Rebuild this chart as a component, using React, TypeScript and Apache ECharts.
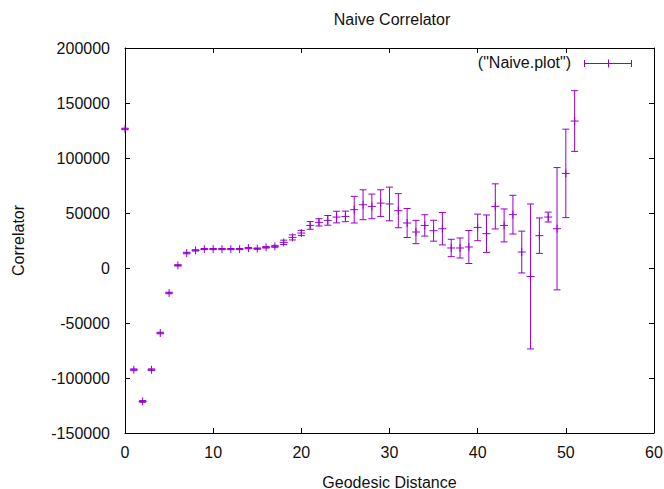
import React, { useEffect, useRef } from "react";
import * as echarts from "echarts";

const distance = [
  0, 1, 2, 3, 4, 5, 6, 7, 8, 9, 10, 11, 12, 13, 14, 15, 16, 17, 18, 19, 20, 21, 22, 23, 24, 25,
  26, 27, 28, 29, 30, 31, 32, 33, 34, 35, 36, 37, 38, 39, 40, 41, 42, 43, 44, 45, 46, 47, 48, 49, 50, 51,
];
const correlator = [
  126400, -92500, -121300, -92500, -59100, -22700, 2400, 13600, 16000, 17200, 17200, 17200, 17200,
  17200, 18100, 17600, 18800, 19700, 23300, 27800, 31800, 38700, 41500, 43300, 46300, 46900,
  53000, 57500, 56000, 59000, 58200, 52100, 40900, 32700, 38700, 33900, 35700, 18200, 18200,
  19100, 36900, 31200, 56000, 38700, 48500, 14500, -7700, 29400, 46300, 35700, 86000, 133600,
];
const errors = [
  700, 800, 800, 800, 700, 700, 600, 700, 600, 500, 500, 500, 500, 500, 600, 600, 700,
  900, 2000, 2300, 2400, 3500, 3300, 4400, 5300, 4800, 12100, 13600, 11200, 12100, 15300, 15500,
  13200, 10600, 9700, 9500, 14700, 7900, 9100, 15000, 12100, 17000, 20500, 15000, 17600, 19000,
  65900, 16100, 4500, 55600, 40200, 27600,
];
const xTicks = { min: 0, max: 60, interval: 10 };
const yTicks = { min: -150000, max: 200000, interval: 50000 };
const titleText = "Naive Correlator";
const xName = "Geodesic Distance";
const yName = "Correlator";
const legendName = '("Naive.plot")';

const COLOR = "#9400D3";
const FONT = "'Liberation Sans', Arial, sans-serif";

export default function App() {
  const ref = useRef<HTMLDivElement>(null);
  useEffect(() => {
    if (!ref.current) return;
    const chart = echarts.init(ref.current, null, { renderer: "svg" });
    const data = distance.map((d, i) => [d, correlator[i], errors[i]]);
    const axisLine = { show: true, onZero: false, lineStyle: { color: "#000", width: 1 } };
    const tickInside = { show: true, inside: true, length: 5, lineStyle: { color: "#000" } };
    const labelStyle = { fontSize: 16, color: "#111", fontFamily: FONT };
    const lineStyle = { stroke: COLOR, lineWidth: 1, fill: null };

    chart.setOption({
      animation: false,
      backgroundColor: "#fff",
      title: {
        text: titleText,
        left: 387,
        top: 6,
        textAlign: "center",
        textStyle: { fontSize: 16, fontWeight: "normal", color: "#111", fontFamily: FONT },
      },
      grid: {
        left: 125,
        right: 10,
        top: 48,
        bottom: 56,
        show: false,
        containLabel: false,
        outerBoundsMode: "none",
      },
      xAxis: [
        {
          type: "value",
          position: "bottom",
          ...xTicks,
          axisLine,
          axisTick: tickInside,
          axisLabel: { ...labelStyle, margin: 11 },
          splitLine: { show: false },
          name: xName,
          nameLocation: "middle",
          nameGap: 41,
          nameTextStyle: { fontSize: 16, color: "#111", fontFamily: FONT },
        },
        {
          type: "value",
          position: "top",
          ...xTicks,
          axisLine,
          axisTick: tickInside,
          axisLabel: { show: false },
          splitLine: { show: false },
        },
      ],
      yAxis: [
        {
          type: "value",
          position: "left",
          ...yTicks,
          axisLine,
          axisTick: tickInside,
          axisLabel: { ...labelStyle, margin: 15, formatter: (v: number) => String(v) },
          splitLine: { show: false },
          name: yName,
          nameLocation: "middle",
          nameGap: 99,
          nameRotate: 90,
          nameTextStyle: { fontSize: 16, color: "#111", fontFamily: FONT },
        },
        {
          type: "value",
          position: "right",
          ...yTicks,
          axisLine,
          axisTick: tickInside,
          axisLabel: { show: false },
          splitLine: { show: false },
        },
      ],
      series: [
        {
          type: "custom",
          name: legendName,
          xAxisIndex: 0,
          yAxisIndex: 0,
          silent: true,
          encode: { x: 0, y: 1 },
          data,
          renderItem: (params: any, api: any) => {
            const x = api.value(0);
            const y = api.value(1);
            const e = api.value(2);
            const c = api.coord([x, y]);
            const t = api.coord([x, y + e]);
            const b = api.coord([x, y - e]);
            const cap = 3.5;
            const m = 4;
            return {
              type: "group",
              children: [
                { type: "line", shape: { x1: c[0], y1: t[1], x2: c[0], y2: b[1] }, style: lineStyle },
                { type: "line", shape: { x1: c[0] - cap, y1: t[1], x2: c[0] + cap, y2: t[1] }, style: lineStyle },
                { type: "line", shape: { x1: c[0] - cap, y1: b[1], x2: c[0] + cap, y2: b[1] }, style: lineStyle },
                { type: "line", shape: { x1: c[0] - m, y1: c[1], x2: c[0] + m, y2: c[1] }, style: lineStyle },
                { type: "line", shape: { x1: c[0], y1: c[1] - m, x2: c[0], y2: c[1] + m }, style: lineStyle },
              ],
            };
          },
        },
      ],
      graphic: [
        {
          type: "text",
          right: 664 - 571,
          top: 54,
          style: { text: legendName, fontSize: 16, fill: "#111", fontFamily: FONT, textAlign: "right" },
        },
        { type: "line", shape: { x1: 584, y1: 63.5, x2: 632, y2: 63.5 }, style: lineStyle },
        { type: "line", shape: { x1: 584.5, y1: 60, x2: 584.5, y2: 67 }, style: lineStyle },
        { type: "line", shape: { x1: 631.5, y1: 60, x2: 631.5, y2: 67 }, style: lineStyle },
        { type: "line", shape: { x1: 608.5, y1: 59.5, x2: 608.5, y2: 67.5 }, style: lineStyle },
      ],
    });
    return () => chart.dispose();
  }, []);
  return (
    <div
      ref={ref}
      style={{ position: "fixed", left: 0, top: 0, width: 664, height: 489, background: "#fff" }}
    />
  );
}
